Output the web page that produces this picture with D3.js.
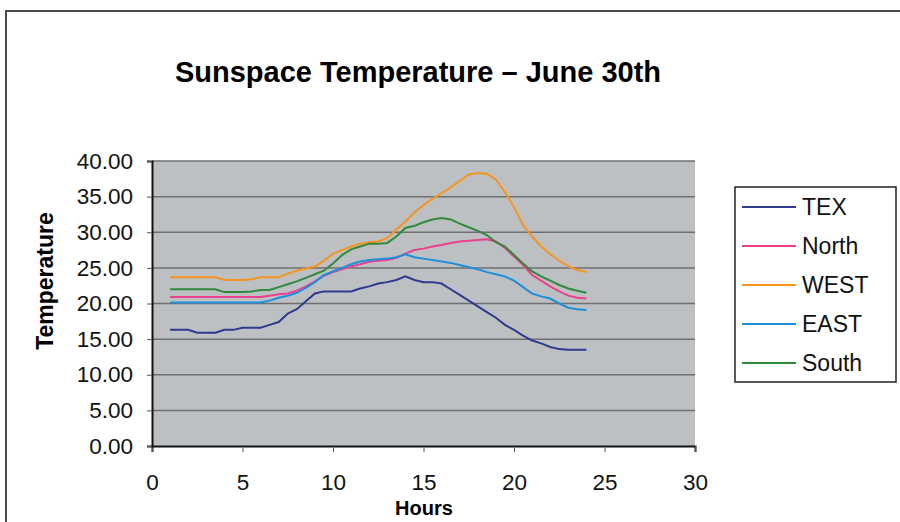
<!DOCTYPE html>
<html>
<head>
<meta charset="utf-8">
<script src="https://cdn.jsdelivr.net/npm/d3@7"></script>
<style>
  body { margin: 0; background: #fff; }
  svg { display: block; font-family: "Liberation Sans", Arial, sans-serif; }
</style>
</head>
<body>
<div id="chart"></div>
<script>
// hours (x) for every reading
const hours = [1, 1.5, 2, 2.5, 3, 3.5, 4, 4.5, 5, 5.5, 6, 6.5, 7, 7.5, 8, 8.5, 9, 9.5, 10, 10.5, 11, 11.5, 12, 12.5,
  13, 13.5, 14, 14.5, 15, 15.5, 16, 16.5, 17, 17.5, 18, 18.5, 19, 19.5, 20, 20.5, 21, 21.5, 22, 22.5, 23, 23.5, 24];

const tex = [16.3, 16.3, 16.3, 15.9, 15.9, 15.9, 16.3, 16.3, 16.6, 16.6, 16.6, 17.0, 17.4, 18.6, 19.2, 20.3, 21.4, 21.7,
  21.7, 21.7, 21.7, 22.1, 22.4, 22.8, 23.0, 23.3, 23.8, 23.3, 23.0, 23.0, 22.8, 22.0, 21.2, 20.4, 19.6, 18.8, 18.0, 17.0,
  16.3, 15.5, 14.8, 14.4, 13.9, 13.6, 13.5, 13.5, 13.5];
const north = [20.9, 20.9, 20.9, 20.9, 20.9, 20.9, 20.9, 20.9, 20.9, 20.9, 20.9, 21.1, 21.3, 21.4, 21.8, 22.4, 23.1, 23.9,
  24.4, 24.8, 25.2, 25.5, 25.85, 26.0, 26.1, 26.4, 27.0, 27.5, 27.7, 28.0, 28.2, 28.5, 28.7, 28.8, 28.9, 29.0, 28.7, 27.8,
  26.6, 25.4, 24.0, 23.2, 22.4, 21.7, 21.1, 20.8, 20.7];
const west = [23.7, 23.7, 23.7, 23.7, 23.7, 23.7, 23.3, 23.3, 23.3, 23.4, 23.7, 23.7, 23.7, 24.2, 24.6, 24.9, 25.2, 26.0,
  27.0, 27.5, 28.0, 28.4, 28.6, 28.7, 29.2, 30.4, 31.5, 32.8, 33.8, 34.7, 35.5, 36.3, 37.2, 38.1, 38.3, 38.2, 37.4, 35.6,
  33.5, 31.0, 29.4, 28.0, 26.9, 26.0, 25.2, 24.7, 24.4];
const east = [20.15, 20.15, 20.15, 20.15, 20.15, 20.15, 20.15, 20.15, 20.15, 20.15, 20.15, 20.4, 20.8, 21.1, 21.5, 22.2,
  23.0, 24.0, 24.5, 25.0, 25.5, 25.9, 26.1, 26.2, 26.3, 26.5, 26.9, 26.5, 26.3, 26.1, 25.9, 25.7, 25.4, 25.1, 24.8, 24.4,
  24.1, 23.8, 23.2, 22.3, 21.4, 21.0, 20.7, 20.0, 19.4, 19.2, 19.1];
const south = [22.0, 22.0, 22.0, 22.0, 22.0, 22.0, 21.6, 21.6, 21.6, 21.7, 21.9, 21.9, 22.3, 22.7, 23.1, 23.6, 24.1, 24.6,
  25.6, 26.8, 27.6, 28.0, 28.4, 28.4, 28.5, 29.4, 30.6, 30.9, 31.4, 31.8, 32.0, 31.8, 31.2, 30.7, 30.2, 29.6, 28.6, 28.0,
  26.8, 25.6, 24.5, 23.8, 23.2, 22.6, 22.1, 21.8, 21.5];

const seriesNames = ["TEX", "North", "WEST", "EAST", "South"];
const seriesValues = [tex, north, west, east, south];
const xTicks = [0, 5, 10, 15, 20, 25, 30];
const yTicks = [0, 5, 10, 15, 20, 25, 30, 35, 40];

const colors = ["#2e3a8f", "#ec3f8c", "#f7941d", "#1e8fdc", "#2f8a3e"];

const W = 900, H = 522;
const svg = d3.select("#chart").append("svg")
  .attr("width", W)
  .attr("height", H);

// outer frame
svg.append("rect")
  .attr("x", 6).attr("y", 11)
  .attr("width", W + 20).attr("height", H + 20)
  .attr("fill", "none")
  .attr("stroke", "#4a4a4a")
  .attr("stroke-width", 2);

const x = d3.scaleLinear().domain([0, 30]).range([152, 695]);
const y = d3.scaleLinear().domain([0, 40]).range([446, 161]);

// plot background
svg.append("rect")
  .attr("x", x(0)).attr("y", y(40))
  .attr("width", x(30) - x(0)).attr("height", y(0) - y(40))
  .attr("fill", "#bcc0c2");

// gridlines
svg.append("g")
  .selectAll("line")
  .data(yTicks.slice(1))
  .enter().append("line")
  .attr("x1", x(0)).attr("x2", x(30))
  .attr("y1", d => y(d)).attr("y2", d => y(d))
  .attr("stroke", "#6f6f6f")
  .attr("stroke-width", 1.5);

// axes
const xAxis = svg.append("g")
  .attr("transform", "translate(0," + y(0) + ")")
  .call(d3.axisBottom(x).tickValues(xTicks).tickSize(6).tickPadding(22).tickFormat(d3.format("d")));
const yAxis = svg.append("g")
  .attr("transform", "translate(" + x(0) + ",0)")
  .call(d3.axisLeft(y).tickValues(yTicks).tickSize(5).tickPadding(14).tickFormat(d3.format(".2f")));

[xAxis, yAxis].forEach(a => {
  a.select(".domain").attr("stroke", "#111").attr("stroke-width", 2);
  a.selectAll(".tick line").attr("stroke", "#555");
  a.selectAll("text").style("font-size", "22.5px").attr("fill", "#111")
    .style("font-family", "'Liberation Sans', Arial, sans-serif");
});

// lines
const line = d3.line()
  .x((d, i) => x(hours[i]))
  .y(d => y(d));

svg.append("g")
  .selectAll("path")
  .data(seriesValues)
  .enter().append("path")
  .attr("d", d => line(d))
  .attr("fill", "none")
  .attr("stroke", (d, i) => colors[i])
  .attr("stroke-width", 2);

// title + axis labels
svg.append("text")
  .attr("x", 418).attr("y", 82)
  .attr("text-anchor", "middle")
  .style("font-size", "29px").style("font-weight", "bold")
  .text("Sunspace Temperature \u2013 June 30th");

svg.append("text")
  .attr("transform", "translate(53,281) rotate(-90)")
  .attr("text-anchor", "middle")
  .style("font-size", "23px").style("font-weight", "bold")
  .text("Temperature");

svg.append("text")
  .attr("x", 424).attr("y", 515)
  .attr("text-anchor", "middle")
  .style("font-size", "20px").style("font-weight", "bold")
  .text("Hours");

// legend
const legend = svg.append("g");
legend.append("rect")
  .attr("x", 735).attr("y", 187)
  .attr("width", 161).attr("height", 195)
  .attr("fill", "#fff")
  .attr("stroke", "#222")
  .attr("stroke-width", 1.5);

const items = legend.selectAll(".item")
  .data(seriesNames)
  .enter().append("g")
  .attr("transform", (d, i) => "translate(0," + (207 + i * 39) + ")");
items.append("line")
  .attr("x1", 742).attr("x2", 796)
  .attr("stroke", (d, i) => colors[i])
  .attr("stroke-width", 2);
items.append("text")
  .attr("x", 802).attr("y", 8)
  .style("font-size", "23px")
  .attr("fill", "#111")
  .text(d => d);
</script>
</body>
</html>
